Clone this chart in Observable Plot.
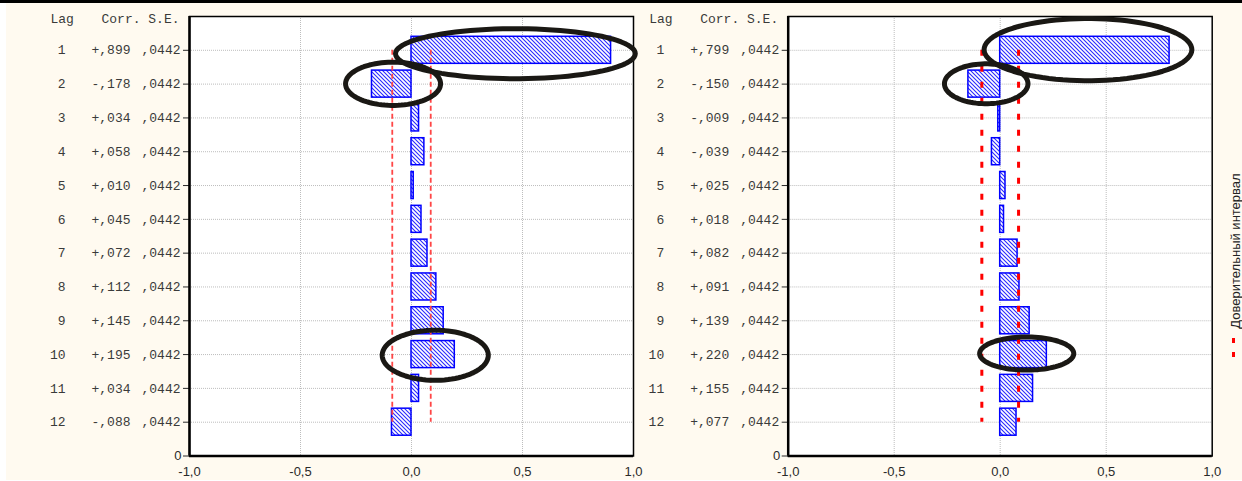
<!DOCTYPE html>
<html>
<head>
<meta charset="utf-8">
<script src="https://cdn.jsdelivr.net/npm/d3@7"></script>
<script src="https://cdn.jsdelivr.net/npm/@observablehq/plot@0.6"></script>
<style>
  html, body { margin: 0; padding: 0; background: #ffffff; }
  #wrap { position: relative; width: 1242px; height: 481px; overflow: hidden; background: #ffffff; }
  #cream { position: absolute; left: 6px; top: 0; width: 1236px; height: 480px; background: #fffaf0; }
  #topbar { position: absolute; left: 0; top: 0; width: 1242px; height: 3px; background: #000; z-index: 5; }
  .panel { position: absolute; top: 0; }
  #legendText { position: absolute; left: 1235px; top: 251px; transform: translate(-50%, -50%) rotate(-90deg);
    white-space: nowrap; font: 13px "Liberation Sans", Arial, sans-serif; color: #222; }
  #legendKey { position: absolute; left: 1229px; top: 336px; }
</style>
</head>
<body>
<div id="wrap">
  <div id="cream"></div>
  <div id="topbar"></div>
  <div id="left" class="panel" style="left:0px"></div>
  <div id="right" class="panel" style="left:640px"></div>
  <div id="legendText"></div>
  <svg id="legendKey" width="10" height="24"></svg>
</div>
<script>
// ---------- data ----------
const lags = [1, 2, 3, 4, 5, 6, 7, 8, 9, 10, 11, 12];
const corrA = [0.899, -0.178, 0.034, 0.058, 0.010, 0.045, 0.072, 0.112, 0.145, 0.195, 0.034, -0.088];
const seA = [0.0442, 0.0442, 0.0442, 0.0442, 0.0442, 0.0442, 0.0442, 0.0442, 0.0442, 0.0442, 0.0442, 0.0442];
const corrB = [0.799, -0.150, -0.009, -0.039, 0.025, 0.018, 0.082, 0.091, 0.139, 0.220, 0.155, 0.077];
const seB = [0.0442, 0.0442, 0.0442, 0.0442, 0.0442, 0.0442, 0.0442, 0.0442, 0.0442, 0.0442, 0.0442, 0.0442];
const xTicks = [-1, -0.5, 0, 0.5, 1];
const xGrid = [-0.5, 0, 0.5];
const yBottomLabel = "0";
const headerLag = "Lag";
const headerCorr = "Corr. S.E.";
const legendLabel = "Доверительный интервал";
const zCrit = 1.96;
// annotation ellipses (data units: x = correlation, y = lag)
const ellipsesA = [
  {cx: 0.468, cy: 1.10, rx: 0.540, ry: 0.74},
  {cx: -0.083, cy: 1.99, rx: 0.214, ry: 0.64},
  {cx: 0.107, cy: 10.02, rx: 0.239, ry: 0.74}
];
const ellipsesB = [
  {cx: 0.414, cy: 0.98, rx: 0.490, ry: 0.92},
  {cx: -0.066, cy: 1.99, rx: 0.197, ry: 0.59},
  {cx: 0.125, cy: 9.97, rx: 0.222, ry: 0.49}
];

// ---------- helpers ----------
const mono = "'Liberation Mono', 'DejaVu Sans Mono', monospace";
const sans = "'Liberation Sans', Arial, sans-serif";
const fmtCorr = v => (v < 0 ? "-" : "+") + "," + Math.abs(v).toFixed(3).split(".")[1];
const fmtSE = v => "," + v.toFixed(4).split(".")[1];
const fmtX = v => v.toFixed(1).replace(".", ",");

function ellipsePoints(list) {
  const pts = [];
  list.forEach((e, k) => {
    for (let a = 0; a <= 360; a += 4) {
      const t = a * Math.PI / 180;
      pts.push({k, x: e.cx + e.rx * Math.cos(t), y: e.cy + e.ry * Math.sin(t)});
    }
  });
  return pts;
}

function panel({corr, se, ellipses, width, marginLeft, marginRight, hatchId, ciStroke, ciWidth, ciDash}) {
  const rows = lags.map((lag, i) => ({lag, corr: corr[i], se: se[i]}));
  const ci = zCrit * se[0];
  const chart = Plot.plot({
    width, height: 481,
    marginLeft, marginRight, marginTop: 16, marginBottom: 25.5,
    style: {background: "transparent", fontFamily: sans, fontSize: "13px", color: "#2a2a2a", overflow: "visible"},
    x: {domain: [-1, 1], ticks: xTicks, tickFormat: fmtX, tickSize: 0, tickPadding: 11, label: null},
    y: {domain: [0, 13], reverse: true, ticks: [...lags, 13], tickFormat: d => (d === 13 ? yBottomLabel : ""), tickSize: 6, tickPadding: 2, label: null},
    marks: [
      Plot.frame({fill: "white", stroke: null}),
      Plot.ruleX(xGrid, {stroke: "#bdbdbd", strokeDasharray: "1,1", strokeWidth: 1}),
      Plot.ruleY(lags, {stroke: "#bdbdbd", strokeDasharray: "1,1", strokeWidth: 1}),
      Plot.rectX(rows, {x1: 0, x2: "corr", y1: d => d.lag - 0.4, y2: d => d.lag + 0.4,
        fill: `url(#${hatchId})`, stroke: "#0000ff", strokeWidth: 1.5}),
      Plot.ruleX([-ci, ci], {y1: 1, y2: 12, stroke: ciStroke, strokeWidth: ciWidth, strokeDasharray: ciDash}),
      Plot.ruleX([-1], {stroke: "#000", strokeWidth: 2.5}),
      Plot.ruleY([13], {stroke: "#000", strokeWidth: 2.5}),
      Plot.frame({stroke: "#000", strokeWidth: 1.5}),
      // table columns in left margin
      Plot.text(rows, {y: "lag", frameAnchor: "left", text: d => String(d.lag), textAnchor: "end", dx: -124, fontFamily: mono, fill: "#3a3a3a"}),
      Plot.text(rows, {y: "lag", frameAnchor: "left", text: d => fmtCorr(d.corr), textAnchor: "end", dx: -59, fontFamily: mono, fill: "#3a3a3a"}),
      Plot.text(rows, {y: "lag", frameAnchor: "left", text: d => fmtSE(d.se), textAnchor: "end", dx: -9, fontFamily: mono, fill: "#3a3a3a"}),
      Plot.text([headerLag], {y: 0, frameAnchor: "left", text: d => d, textAnchor: "start", dx: -139, dy: 2, fontFamily: mono, fill: "#3a3a3a"}),
      Plot.text([headerCorr], {y: 0, frameAnchor: "left", text: d => d, textAnchor: "end", dx: -10, dy: 2, fontFamily: mono, fill: "#3a3a3a"}),
      // annotation ellipses
      Plot.line(ellipsePoints(ellipses), {x: "x", y: "y", z: "k", stroke: "#1a1814", strokeWidth: 5, strokeLinejoin: "round"})
    ]
  });
  // hatch pattern definition
  const ns = "http://www.w3.org/2000/svg";
  const defs = document.createElementNS(ns, "defs");
  defs.innerHTML = `<pattern id="${hatchId}" patternUnits="userSpaceOnUse" width="4" height="4">
      <rect width="4" height="4" fill="#ffffff"/>
      <path d="M-1,-1 L5,5 M3,-1 L5,1 M-1,3 L1,5" stroke="#2a2aff" stroke-width="1.1"/>
    </pattern>`;
  chart.insertBefore(defs, chart.firstChild);
  return chart;
}

document.getElementById("left").appendChild(panel({
  corr: corrA, se: seA, ellipses: ellipsesA, width: 640, marginLeft: 189, marginRight: 7,
  hatchId: "hatchA", ciStroke: "#ff4646", ciWidth: 1.8, ciDash: "5,3"
}));
document.getElementById("right").appendChild(panel({
  corr: corrB, se: seB, ellipses: ellipsesB, width: 602, marginLeft: 147.7, marginRight: 30.3,
  hatchId: "hatchB", ciStroke: "#ff0000", ciWidth: 3, ciDash: "6,10"
}));

document.getElementById("legendText").textContent = legendLabel;
document.getElementById("legendKey").innerHTML =
  '<line x1="4.5" y1="2" x2="4.5" y2="22" stroke="#ff0000" stroke-width="3" stroke-dasharray="5,9"/>';
</script>
</body>
</html>
